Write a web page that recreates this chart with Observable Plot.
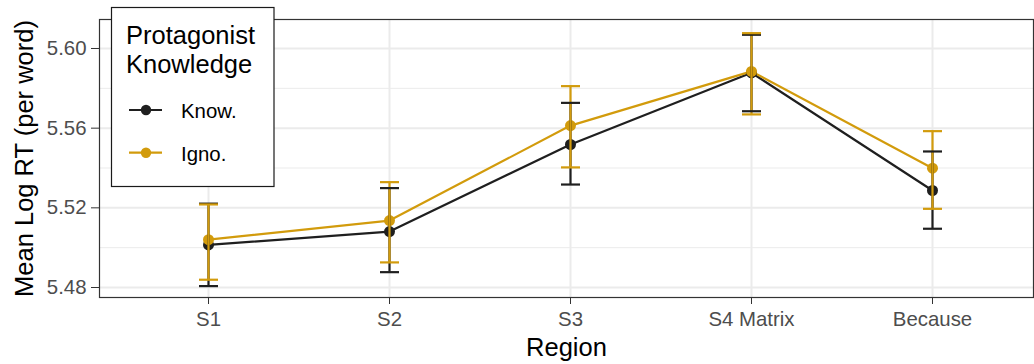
<!DOCTYPE html>
<html>
<head>
<meta charset="utf-8">
<script src="https://cdn.jsdelivr.net/npm/d3@7"></script>
<script src="https://cdn.jsdelivr.net/npm/@observablehq/plot@0.6"></script>
<style>
  html, body { margin: 0; padding: 0; background: #fff; }
  #chart { position: relative; width: 1034px; height: 364px; }
</style>
</head>
<body>
<div id="chart"></div>
<script>
const regions = ["S1", "S2", "S3", "S4 Matrix", "Because"];
const groups = ["Know.", "Igno."];
const groupColors = ["#1f1f1f", "#d29b0c"];

const knowMean = [5.5014, 5.5081, 5.5518, 5.5878, 5.5287];
const knowLo   = [5.4807, 5.4877, 5.5317, 5.5685, 5.5095];
const knowHi   = [5.5221, 5.5299, 5.5727, 5.6069, 5.5483];

const ignoMean = [5.5040, 5.5136, 5.5613, 5.5885, 5.5399];
const ignoLo   = [5.4839, 5.4926, 5.5403, 5.5669, 5.5195];
const ignoHi   = [5.5217, 5.5329, 5.5811, 5.6077, 5.5585];

const yTicks = [5.48, 5.52, 5.56, 5.60];
const yMinor = [5.50, 5.54, 5.58];

const legendTitle = ["Protagonist", "Knowledge"];
const xTitle = "Region";
const yTitle = "Mean Log RT (per word)";

const data = [];
regions.forEach((r, i) => {
  data.push({region: r, group: groups[0], mean: knowMean[i], lo: knowLo[i], hi: knowHi[i]});
});
regions.forEach((r, i) => {
  data.push({region: r, group: groups[1], mean: ignoMean[i], lo: ignoLo[i], hi: ignoHi[i]});
});

const font = "'Liberation Sans', Arial, Helvetica, sans-serif";

// horizontal cap symbol for error bars
const capSymbol = {
  draw(context) {
    context.moveTo(-9.5, 0);
    context.lineTo(9.5, 0);
  }
};

const chart = Plot.plot({
  width: 1034,
  height: 364,
  marginTop: 19,
  marginBottom: 67,
  marginLeft: 99,
  marginRight: 1,
  style: {fontFamily: font, fontSize: "20px", color: "#4d4d4d", background: "#fff"},
  x: {type: "point", domain: regions, range: [207.3, 933.3], padding: 0},
  y: {domain: [5.47498, 5.61456]},
  color: {domain: groups, range: groupColors},
  marks: [
    Plot.gridY(yMinor, {stroke: "#ebebeb", strokeOpacity: 1, strokeWidth: 1}),
    Plot.gridY(yTicks, {stroke: "#ebebeb", strokeOpacity: 1, strokeWidth: 2}),
    Plot.gridX(regions, {stroke: "#ebebeb", strokeOpacity: 1, strokeWidth: 2}),
    Plot.frame({stroke: "#333", strokeWidth: 1.2}),
    Plot.axisX({tickSize: 7, tickPadding: 7, fontSize: 20.4, label: null, stroke: "#333", fill: "#4d4d4d"}),
    Plot.axisY(yTicks, {tickSize: 8, tickPadding: 5, fontSize: 20.4, label: null, tickFormat: d3.format(".2f"), stroke: "#333", fill: "#4d4d4d"}),
    Plot.text([xTitle], {frameAnchor: "bottom", dy: 50, lineAnchor: "middle", textAnchor: "middle", fontSize: 25.5, fill: "#000"}),
    Plot.text([yTitle], {frameAnchor: "left", dx: -75, rotate: -90, lineAnchor: "middle", textAnchor: "middle", fontSize: 25.5, fill: "#000"}),
    Plot.line(data, {x: "region", y: "mean", z: "group", stroke: "group", strokeWidth: 2.2}),
    Plot.dot(data, {x: "region", y: "mean", fill: "group", r: 5.5}),
    Plot.ruleX(data, {x: "region", y1: "lo", y2: "hi", stroke: "group", strokeWidth: 2.2}),
    Plot.dot(data, {x: "region", y: "lo", symbol: capSymbol, fill: "none", stroke: "group", strokeWidth: 2.2, r: 5}),
    Plot.dot(data, {x: "region", y: "hi", symbol: capSymbol, fill: "none", stroke: "group", strokeWidth: 2.2, r: 5})
  ]
});

document.getElementById("chart").appendChild(chart);

// Legend (inside the panel, top-left, as in the reference)
const svg = d3.select(chart);
const lg = svg.append("g").attr("font-family", font).attr("text-anchor", "start");
lg.append("rect")
  .attr("x", 111.5).attr("y", 7.5).attr("width", 162.5).attr("height", 179)
  .attr("fill", "#fff").attr("stroke", "#1a1a1a").attr("stroke-width", 1.2);
legendTitle.forEach((t, i) => {
  lg.append("text").attr("x", 126).attr("y", 44 + i * 28.5)
    .attr("font-size", 25.5).attr("fill", "#000").text(t);
});
groups.forEach((g, i) => {
  const cy = 110 + i * 42.7;
  lg.append("line").attr("x1", 129).attr("x2", 162).attr("y1", cy).attr("y2", cy)
    .attr("stroke", groupColors[i]).attr("stroke-width", 2.2);
  lg.append("circle").attr("cx", 146).attr("cy", cy).attr("r", 5.2).attr("fill", groupColors[i]);
  lg.append("text").attr("x", 181).attr("y", cy + 8).attr("font-size", 20.4)
    .attr("fill", "#000").text(g);
});
</script>
</body>
</html>
